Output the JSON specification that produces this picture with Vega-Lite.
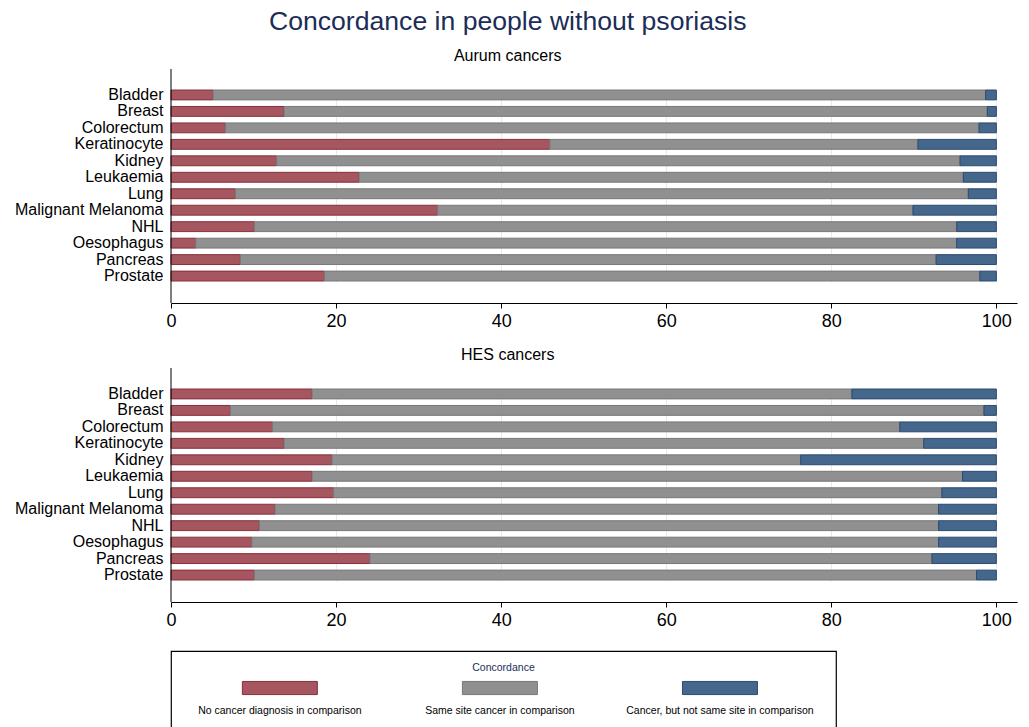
{
  "$schema": "https://vega.github.io/schema/vega-lite/v6.json",
  "background": "white",
  "padding": {"left": 14, "top": 8, "right": 5, "bottom": 0},
  "title": {"text": "Concordance in people without psoriasis", "fontSize": 26.6, "font": "Liberation Sans", "fontWeight": "normal", "color": "#1c2d57", "anchor": "middle", "offset": 12, "dx": -8},
  "data": {"values": [
    {"source": "Aurum", "cancer": "Bladder", "concordance": "No cancer diagnosis in comparison", "pct": 5.1},
    {"source": "Aurum", "cancer": "Bladder", "concordance": "Same site cancer in comparison", "pct": 93.6},
    {"source": "Aurum", "cancer": "Bladder", "concordance": "Cancer, but not same site in comparison", "pct": 1.3},
    {"source": "Aurum", "cancer": "Breast", "concordance": "No cancer diagnosis in comparison", "pct": 13.7},
    {"source": "Aurum", "cancer": "Breast", "concordance": "Same site cancer in comparison", "pct": 85.2},
    {"source": "Aurum", "cancer": "Breast", "concordance": "Cancer, but not same site in comparison", "pct": 1.1},
    {"source": "Aurum", "cancer": "Colorectum", "concordance": "No cancer diagnosis in comparison", "pct": 6.6},
    {"source": "Aurum", "cancer": "Colorectum", "concordance": "Same site cancer in comparison", "pct": 91.3},
    {"source": "Aurum", "cancer": "Colorectum", "concordance": "Cancer, but not same site in comparison", "pct": 2.1},
    {"source": "Aurum", "cancer": "Keratinocyte", "concordance": "No cancer diagnosis in comparison", "pct": 45.9},
    {"source": "Aurum", "cancer": "Keratinocyte", "concordance": "Same site cancer in comparison", "pct": 44.6},
    {"source": "Aurum", "cancer": "Keratinocyte", "concordance": "Cancer, but not same site in comparison", "pct": 9.5},
    {"source": "Aurum", "cancer": "Kidney", "concordance": "No cancer diagnosis in comparison", "pct": 12.8},
    {"source": "Aurum", "cancer": "Kidney", "concordance": "Same site cancer in comparison", "pct": 82.8},
    {"source": "Aurum", "cancer": "Kidney", "concordance": "Cancer, but not same site in comparison", "pct": 4.4},
    {"source": "Aurum", "cancer": "Leukaemia", "concordance": "No cancer diagnosis in comparison", "pct": 22.8},
    {"source": "Aurum", "cancer": "Leukaemia", "concordance": "Same site cancer in comparison", "pct": 73.2},
    {"source": "Aurum", "cancer": "Leukaemia", "concordance": "Cancer, but not same site in comparison", "pct": 4.0},
    {"source": "Aurum", "cancer": "Lung", "concordance": "No cancer diagnosis in comparison", "pct": 7.8},
    {"source": "Aurum", "cancer": "Lung", "concordance": "Same site cancer in comparison", "pct": 88.8},
    {"source": "Aurum", "cancer": "Lung", "concordance": "Cancer, but not same site in comparison", "pct": 3.4},
    {"source": "Aurum", "cancer": "Malignant Melanoma", "concordance": "No cancer diagnosis in comparison", "pct": 32.3},
    {"source": "Aurum", "cancer": "Malignant Melanoma", "concordance": "Same site cancer in comparison", "pct": 57.6},
    {"source": "Aurum", "cancer": "Malignant Melanoma", "concordance": "Cancer, but not same site in comparison", "pct": 10.1},
    {"source": "Aurum", "cancer": "NHL", "concordance": "No cancer diagnosis in comparison", "pct": 10.1},
    {"source": "Aurum", "cancer": "NHL", "concordance": "Same site cancer in comparison", "pct": 85.1},
    {"source": "Aurum", "cancer": "NHL", "concordance": "Cancer, but not same site in comparison", "pct": 4.8},
    {"source": "Aurum", "cancer": "Oesophagus", "concordance": "No cancer diagnosis in comparison", "pct": 3.0},
    {"source": "Aurum", "cancer": "Oesophagus", "concordance": "Same site cancer in comparison", "pct": 92.2},
    {"source": "Aurum", "cancer": "Oesophagus", "concordance": "Cancer, but not same site in comparison", "pct": 4.8},
    {"source": "Aurum", "cancer": "Pancreas", "concordance": "No cancer diagnosis in comparison", "pct": 8.4},
    {"source": "Aurum", "cancer": "Pancreas", "concordance": "Same site cancer in comparison", "pct": 84.3},
    {"source": "Aurum", "cancer": "Pancreas", "concordance": "Cancer, but not same site in comparison", "pct": 7.3},
    {"source": "Aurum", "cancer": "Prostate", "concordance": "No cancer diagnosis in comparison", "pct": 18.6},
    {"source": "Aurum", "cancer": "Prostate", "concordance": "Same site cancer in comparison", "pct": 79.4},
    {"source": "Aurum", "cancer": "Prostate", "concordance": "Cancer, but not same site in comparison", "pct": 2.0},
    {"source": "HES", "cancer": "Bladder", "concordance": "No cancer diagnosis in comparison", "pct": 17.1},
    {"source": "HES", "cancer": "Bladder", "concordance": "Same site cancer in comparison", "pct": 65.4},
    {"source": "HES", "cancer": "Bladder", "concordance": "Cancer, but not same site in comparison", "pct": 17.5},
    {"source": "HES", "cancer": "Breast", "concordance": "No cancer diagnosis in comparison", "pct": 7.2},
    {"source": "HES", "cancer": "Breast", "concordance": "Same site cancer in comparison", "pct": 91.3},
    {"source": "HES", "cancer": "Breast", "concordance": "Cancer, but not same site in comparison", "pct": 1.5},
    {"source": "HES", "cancer": "Colorectum", "concordance": "No cancer diagnosis in comparison", "pct": 12.3},
    {"source": "HES", "cancer": "Colorectum", "concordance": "Same site cancer in comparison", "pct": 76.0},
    {"source": "HES", "cancer": "Colorectum", "concordance": "Cancer, but not same site in comparison", "pct": 11.7},
    {"source": "HES", "cancer": "Keratinocyte", "concordance": "No cancer diagnosis in comparison", "pct": 13.7},
    {"source": "HES", "cancer": "Keratinocyte", "concordance": "Same site cancer in comparison", "pct": 77.5},
    {"source": "HES", "cancer": "Keratinocyte", "concordance": "Cancer, but not same site in comparison", "pct": 8.8},
    {"source": "HES", "cancer": "Kidney", "concordance": "No cancer diagnosis in comparison", "pct": 19.5},
    {"source": "HES", "cancer": "Kidney", "concordance": "Same site cancer in comparison", "pct": 56.8},
    {"source": "HES", "cancer": "Kidney", "concordance": "Cancer, but not same site in comparison", "pct": 23.7},
    {"source": "HES", "cancer": "Leukaemia", "concordance": "No cancer diagnosis in comparison", "pct": 17.1},
    {"source": "HES", "cancer": "Leukaemia", "concordance": "Same site cancer in comparison", "pct": 78.8},
    {"source": "HES", "cancer": "Leukaemia", "concordance": "Cancer, but not same site in comparison", "pct": 4.1},
    {"source": "HES", "cancer": "Lung", "concordance": "No cancer diagnosis in comparison", "pct": 19.7},
    {"source": "HES", "cancer": "Lung", "concordance": "Same site cancer in comparison", "pct": 73.7},
    {"source": "HES", "cancer": "Lung", "concordance": "Cancer, but not same site in comparison", "pct": 6.6},
    {"source": "HES", "cancer": "Malignant Melanoma", "concordance": "No cancer diagnosis in comparison", "pct": 12.6},
    {"source": "HES", "cancer": "Malignant Melanoma", "concordance": "Same site cancer in comparison", "pct": 80.4},
    {"source": "HES", "cancer": "Malignant Melanoma", "concordance": "Cancer, but not same site in comparison", "pct": 7.0},
    {"source": "HES", "cancer": "NHL", "concordance": "No cancer diagnosis in comparison", "pct": 10.7},
    {"source": "HES", "cancer": "NHL", "concordance": "Same site cancer in comparison", "pct": 82.3},
    {"source": "HES", "cancer": "NHL", "concordance": "Cancer, but not same site in comparison", "pct": 7.0},
    {"source": "HES", "cancer": "Oesophagus", "concordance": "No cancer diagnosis in comparison", "pct": 9.8},
    {"source": "HES", "cancer": "Oesophagus", "concordance": "Same site cancer in comparison", "pct": 83.2},
    {"source": "HES", "cancer": "Oesophagus", "concordance": "Cancer, but not same site in comparison", "pct": 7.0},
    {"source": "HES", "cancer": "Pancreas", "concordance": "No cancer diagnosis in comparison", "pct": 24.1},
    {"source": "HES", "cancer": "Pancreas", "concordance": "Same site cancer in comparison", "pct": 68.1},
    {"source": "HES", "cancer": "Pancreas", "concordance": "Cancer, but not same site in comparison", "pct": 7.8},
    {"source": "HES", "cancer": "Prostate", "concordance": "No cancer diagnosis in comparison", "pct": 10.1},
    {"source": "HES", "cancer": "Prostate", "concordance": "Same site cancer in comparison", "pct": 87.5},
    {"source": "HES", "cancer": "Prostate", "concordance": "Cancer, but not same site in comparison", "pct": 2.4}
  ]},
  "spacing": 21,
  "vconcat": [
    {
      "spacing": 16,
      "vconcat": [
        {
          "title": {"text": "Aurum cancers", "fontSize": 16, "fontWeight": "normal", "color": "black", "offset": 5, "frame": "bounds", "anchor": "middle", "dx": -8},
          "width": 846, "height": 234,
          "transform": [
            {"filter": "datum.source === 'Aurum'"},
            {"calculate": "indexof(['No cancer diagnosis in comparison', 'Same site cancer in comparison', 'Cancer, but not same site in comparison'], datum.concordance)", "as": "stackOrder"}
          ],
          "layer": [
            {
              "mark": {"type": "bar", "strokeWidth": 1},
              "encoding": {
                "y": {"field": "cancer", "type": "nominal", "scale": {"range": [21, 212], "paddingInner": 0.4, "paddingOuter": 0}, "axis": {"title": null, "ticks": false, "domain": false, "labelFontSize": 16, "labelPadding": 8, "labelColor": "black", "grid": false}},
                "x": {"field": "pct", "type": "quantitative", "stack": "zero", "scale": {"domain": [0, 102.5], "nice": false}, "axis": {"values": [0, 20, 40, 60, 80, 100], "title": null, "grid": true, "gridColor": "#e2ebee", "tickColor": "black", "tickSize": 5, "domainColor": "black", "labelFontSize": 18, "labelColor": "black", "labelPadding": 4, "labelFlush": false}},
                "order": {"field": "stackOrder", "type": "quantitative", "sort": "ascending"},
                "color": {"field": "concordance", "type": "nominal", "scale": {"domain": ["No cancer diagnosis in comparison", "Same site cancer in comparison", "Cancer, but not same site in comparison"], "range": ["#a5565f", "#909090", "#45678c"]}, "legend": null},
                "stroke": {"field": "concordance", "type": "nominal", "scale": {"domain": ["No cancer diagnosis in comparison", "Same site cancer in comparison", "Cancer, but not same site in comparison"], "range": ["#8a2e3b", "#787878", "#2a4b70"]}, "legend": null}
              }
            },
            {
              "transform": [{"filter": "datum.cancer === 'Bladder' && datum.stackOrder === 0"}],
              "mark": {"type": "rule", "color": "black", "strokeWidth": 1},
              "encoding": {"x": {"datum": 0, "type": "quantitative"}}
            }
          ]
        },
        {
          "title": {"text": "HES cancers", "fontSize": 16, "fontWeight": "normal", "color": "black", "offset": 5, "frame": "bounds", "anchor": "middle", "dx": -8},
          "width": 846, "height": 234,
          "transform": [
            {"filter": "datum.source === 'HES'"},
            {"calculate": "indexof(['No cancer diagnosis in comparison', 'Same site cancer in comparison', 'Cancer, but not same site in comparison'], datum.concordance)", "as": "stackOrder"}
          ],
          "layer": [
            {
              "mark": {"type": "bar", "strokeWidth": 1},
              "encoding": {
                "y": {"field": "cancer", "type": "nominal", "scale": {"range": [21, 212], "paddingInner": 0.4, "paddingOuter": 0}, "axis": {"title": null, "ticks": false, "domain": false, "labelFontSize": 16, "labelPadding": 8, "labelColor": "black", "grid": false}},
                "x": {"field": "pct", "type": "quantitative", "stack": "zero", "scale": {"domain": [0, 102.5], "nice": false}, "axis": {"values": [0, 20, 40, 60, 80, 100], "title": null, "grid": true, "gridColor": "#e2ebee", "tickColor": "black", "tickSize": 5, "domainColor": "black", "labelFontSize": 18, "labelColor": "black", "labelPadding": 4, "labelFlush": false}},
                "order": {"field": "stackOrder", "type": "quantitative", "sort": "ascending"},
                "color": {"field": "concordance", "type": "nominal", "scale": {"domain": ["No cancer diagnosis in comparison", "Same site cancer in comparison", "Cancer, but not same site in comparison"], "range": ["#a5565f", "#909090", "#45678c"]}, "legend": null},
                "stroke": {"field": "concordance", "type": "nominal", "scale": {"domain": ["No cancer diagnosis in comparison", "Same site cancer in comparison", "Cancer, but not same site in comparison"], "range": ["#8a2e3b", "#787878", "#2a4b70"]}, "legend": null}
              }
            },
            {
              "transform": [{"filter": "datum.cancer === 'Bladder' && datum.stackOrder === 0"}],
              "mark": {"type": "rule", "color": "black", "strokeWidth": 1},
              "encoding": {"x": {"datum": 0, "type": "quantitative"}}
            }
          ]
        }
      ]
    },
    {
      "title": {"text": "Concordance", "fontSize": 10.5, "fontWeight": "normal", "color": "#1c2d57", "anchor": "middle", "offset": -22},
      "width": 665, "height": 84,
      "view": {"stroke": "black", "strokeWidth": 1.2},
      "transform": [{"filter": "datum.source === 'Aurum' && datum.cancer === 'Bladder'"}],
      "encoding": {
        "x": {"field": "concordance", "type": "nominal", "sort": ["No cancer diagnosis in comparison", "Same site cancer in comparison", "Cancer, but not same site in comparison"], "scale": {"type": "point", "padding": 0.511, "align": 0.484}, "axis": null}
      },
      "layer": [
        {
          "mark": {"type": "point", "shape": "M-1,-0.175H1V0.175H-1Z", "size": 5625, "filled": true, "opacity": 1, "strokeWidth": 1, "yOffset": -5},
          "encoding": {
            "color": {"field": "concordance", "type": "nominal", "scale": {"domain": ["No cancer diagnosis in comparison", "Same site cancer in comparison", "Cancer, but not same site in comparison"], "range": ["#a5565f", "#909090", "#45678c"]}, "legend": null},
            "stroke": {"field": "concordance", "type": "nominal", "scale": {"domain": ["No cancer diagnosis in comparison", "Same site cancer in comparison", "Cancer, but not same site in comparison"], "range": ["#8a2e3b", "#787878", "#2a4b70"]}, "legend": null}
          }
        },
        {
          "mark": {"type": "text", "fontSize": 10.5, "color": "black", "yOffset": 18},
          "encoding": {"text": {"field": "concordance", "type": "nominal"}}
        }
      ]
    }
  ],
  "resolve": {"scale": {"color": "shared", "stroke": "shared"}},
  "config": {
    "font": "Liberation Sans",
    "view": {"stroke": null},
    "axis": {"domainWidth": 1, "tickWidth": 1, "gridWidth": 1}
  }
}
